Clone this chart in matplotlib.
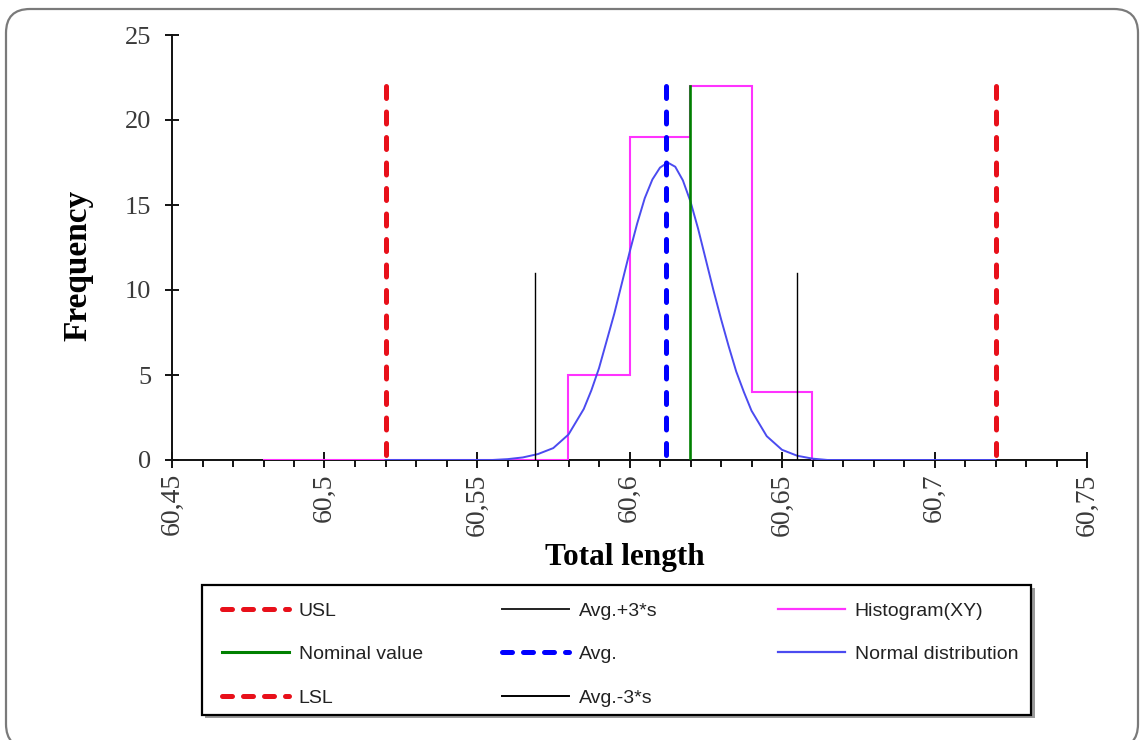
import matplotlib
matplotlib.use("Agg")
import matplotlib.pyplot as plt
from matplotlib.patches import FancyBboxPatch, Rectangle
from matplotlib.transforms import IdentityTransform
from matplotlib.ticker import MultipleLocator, FixedLocator
from matplotlib.lines import Line2D

# ---- data ----
hist_edges = [60.48, 60.50, 60.52, 60.54, 60.56, 60.58, 60.60, 60.62, 60.64, 60.66]
hist_counts = [0, 0, 0, 0, 0, 5, 19, 22, 4]

norm_x = [60.52, 60.555, 60.56, 60.565, 60.57, 60.575, 60.58, 60.585, 60.5875, 60.59,
          60.5925, 60.595, 60.5975, 60.60, 60.6025, 60.605, 60.6075, 60.61, 60.6125,
          60.615, 60.6175, 60.62, 60.6225, 60.625, 60.6275, 60.63, 60.6325, 60.635,
          60.6375, 60.64, 60.645, 60.65, 60.655, 60.66, 60.665, 60.72]
norm_y = [0, 0, 0.05, 0.15, 0.35, 0.7, 1.5, 3.0, 4.1, 5.4,
          7.0, 8.6, 10.4, 12.2, 13.9, 15.4, 16.5, 17.2, 17.5,
          17.25, 16.45, 15.2, 13.6, 11.8, 10.0, 8.3, 6.7, 5.2,
          4.0, 2.9, 1.4, 0.6, 0.25, 0.08, 0, 0]

usl = 60.72
lsl = 60.52
nominal = 60.62
avg = 60.612
avg_p3s = 60.655
avg_m3s = 60.569
spec_height = 22
sigma_height = 11

xtick_vals = [60.45, 60.50, 60.55, 60.60, 60.65, 60.70, 60.75]
xtick_labels = ["60,45", "60,5", "60,55", "60,6", "60,65", "60,7", "60,75"]
ytick_vals = [0, 5, 10, 15, 20, 25]

legend_cols = [
    ["USL", "Nominal value", "LSL"],
    ["Avg.+3*s", "Avg.", "Avg.-3*s"],
    ["Histogram(XY)", "Normal distribution"],
]

RED = "#e8101a"
BLUE = "#0000ff"
GREEN = "#008000"
MAG = "#ff33ff"
NBLUE = "#4b4bf0"

W, H = 1140, 740
fig = plt.figure(figsize=(W / 100, H / 100), dpi=100)
fig.patch.set_facecolor("white")

# outer rounded frame
frame = FancyBboxPatch((6, -8), 1132, 739, boxstyle="round,pad=0,rounding_size=24",
                       transform=IdentityTransform(), facecolor="none",
                       edgecolor="#7a7a7a", linewidth=1.6)
fig.patches.append(frame)

ax = fig.add_axes([172 / W, 1 - 460 / H, 915 / W, 425 / H])
ax.set_xlim(60.45, 60.75)
ax.set_ylim(0, 25)

serif = ["Liberation Serif", "DejaVu Serif"]
sans = ["Liberation Sans", "DejaVu Sans"]

ax.stairs(hist_counts, hist_edges, baseline=0, color=MAG, linewidth=1.5, zorder=3)
ax.plot(norm_x, norm_y, color=NBLUE, linewidth=1.4, zorder=4)

# dashed vertical lines drawn from top to bottom so the dash pattern starts at the top
dash_kw = dict(linewidth=3.6, dashes=(2.4, 2.7), dash_capstyle="round", zorder=5)
ax.plot([usl, usl], [spec_height, 0], color=RED, **dash_kw)
ax.plot([lsl, lsl], [spec_height, 0], color=RED, **dash_kw)
ax.plot([avg, avg], [spec_height, 0], color=BLUE, **dash_kw)
ax.plot([nominal, nominal], [0, spec_height], color=GREEN, linewidth=1.9, zorder=5)
ax.plot([avg_p3s, avg_p3s], [0, sigma_height], color="black", linewidth=1.0, zorder=5)
ax.plot([avg_m3s, avg_m3s], [0, sigma_height], color="black", linewidth=1.0, zorder=5)

for s in ["top", "right"]:
    ax.spines[s].set_visible(False)
for s in ["left", "bottom"]:
    ax.spines[s].set_linewidth(1.4)
    ax.spines[s].set_color("#111111")

ax.xaxis.set_major_locator(FixedLocator(xtick_vals))
ax.set_xticklabels(xtick_labels, rotation=90, fontfamily=serif, fontsize=20, color="#3a3a3a")
ax.xaxis.set_minor_locator(MultipleLocator(0.01))
ax.tick_params(axis="x", which="major", direction="inout", length=11, width=1.3, pad=4)
ax.tick_params(axis="x", which="minor", direction="out", length=5, width=1.3)

ax.set_yticks(ytick_vals)
ax.set_yticklabels([str(v) for v in ytick_vals], fontfamily=serif, fontsize=19, color="#3a3a3a")
ax.tick_params(axis="y", which="major", direction="inout", length=10, width=1.3, pad=10)

ax.set_ylabel("Frequency", fontfamily=serif, fontsize=24, fontweight="bold")
ax.yaxis.set_label_coords((93 - 172) / 915, 0.459)
ax.set_xlabel("Total length", fontfamily=serif, fontsize=22.5, fontweight="bold")
ax.xaxis.set_label_coords(0.495, (460 - 543) / 425)

# ---- legend (three columns inside one box) ----
fig.patches.append(Rectangle((205, 22), 830, 130, transform=IdentityTransform(),
                             facecolor="#9a9a9a", edgecolor="none", zorder=0))
fig.patches.append(Rectangle((202, 25), 829, 130, transform=IdentityTransform(),
                             facecolor="white", edgecolor="black", linewidth=1.6, zorder=1))

def dashed(color):
    return Line2D([], [], color=color, linewidth=3.6, dashes=(2.0, 2.2), dash_capstyle="round")

col_handles = [
    [dashed(RED), Line2D([], [], color=GREEN, linewidth=2.2), dashed(RED)],
    [Line2D([], [], color="#222222", linewidth=1.4), dashed(BLUE),
     Line2D([], [], color="black", linewidth=1.4)],
    [Line2D([], [], color=MAG, linewidth=1.6), Line2D([], [], color=NBLUE, linewidth=1.6)],
]
col_x = [222, 502, 778]
for hs, labs, cx in zip(col_handles, legend_cols, col_x):
    lg = fig.legend(hs, labs, loc="upper left", bbox_to_anchor=(cx / W, 1 - 602 / H),
                    frameon=False, prop={"family": sans, "size": 14},
                    handlelength=3.45, handletextpad=0.5, labelspacing=1.34,
                    borderpad=0, borderaxespad=0)
    for t in lg.get_texts():
        t.set_color("#222222")

fig.savefig("out.png", dpi=100, facecolor="white")
